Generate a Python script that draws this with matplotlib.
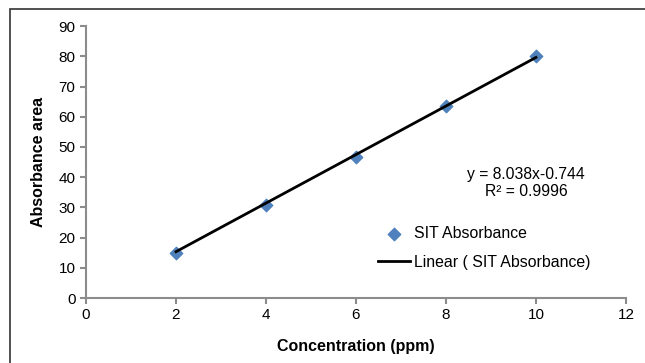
import matplotlib.pyplot as plt
from matplotlib.patches import Rectangle

plt.rcParams['font.family'] = ['Liberation Sans', 'DejaVu Sans']

# ---------- DATA ----------
concentration = [2, 4, 6, 8, 10]
absorbance = [15.0, 30.8, 46.8, 63.5, 80.2]
slope = 8.038
intercept = -0.744
r_squared = 0.9996

x_ticks = [0, 2, 4, 6, 8, 10, 12]
y_ticks = [0, 10, 20, 30, 40, 50, 60, 70, 80, 90]

# ---------- PLOT ----------
fig = plt.figure(figsize=(6.45, 3.63), dpi=100)
ax = fig.add_axes([0.1333, 0.179, 0.8372, 0.749])

# outer frame
fig.patches.append(Rectangle((10 / 645, -0.05), 1.0, 1 - 9 / 363 + 0.05,
                             transform=fig.transFigure, fill=False,
                             edgecolor='#333333', linewidth=1.2))

ax.scatter(concentration, absorbance, marker='D', s=40, color='#4F81BD',
           label='SIT Absorbance', zorder=3)
fit_x = [min(concentration), max(concentration)]
fit_y = [slope * x + intercept for x in fit_x]
ax.plot(fit_x, fit_y, color='black', linewidth=2, label='Linear ( SIT Absorbance)', zorder=4)

ax.set_xlim(0, 12)
ax.set_ylim(0, 90)
ax.set_xticks(x_ticks)
ax.set_yticks(y_ticks)

for side in ['top', 'right']:
    ax.spines[side].set_visible(False)
for side in ['left', 'bottom']:
    ax.spines[side].set_color('#8c8c8c')
    ax.spines[side].set_linewidth(1.5)
ax.tick_params(axis='both', colors='#8c8c8c', labelcolor='black', labelsize=11,
               length=4, width=1.5, direction='out')

ax.set_xlabel('Concentration (ppm)', fontsize=11.5, fontweight='bold', labelpad=12)
ax.set_ylabel('Absorbance area', fontsize=11.5, fontweight='bold', labelpad=9)

ax.text(526, 180, f'y = {slope}x{intercept}\nR² = {r_squared}',
        transform=None, ha='center', va='center', fontsize=11.3, linespacing=1.2)

ax.legend(loc='center left', bbox_to_anchor=(378 / 645, 1 - 248 / 363),
          bbox_transform=fig.transFigure, frameon=False, fontsize=11.4,
          handlelength=2.0, handletextpad=0.25, labelspacing=0.85,
          borderpad=0, borderaxespad=0)

fig.savefig('out.png', dpi=100)
